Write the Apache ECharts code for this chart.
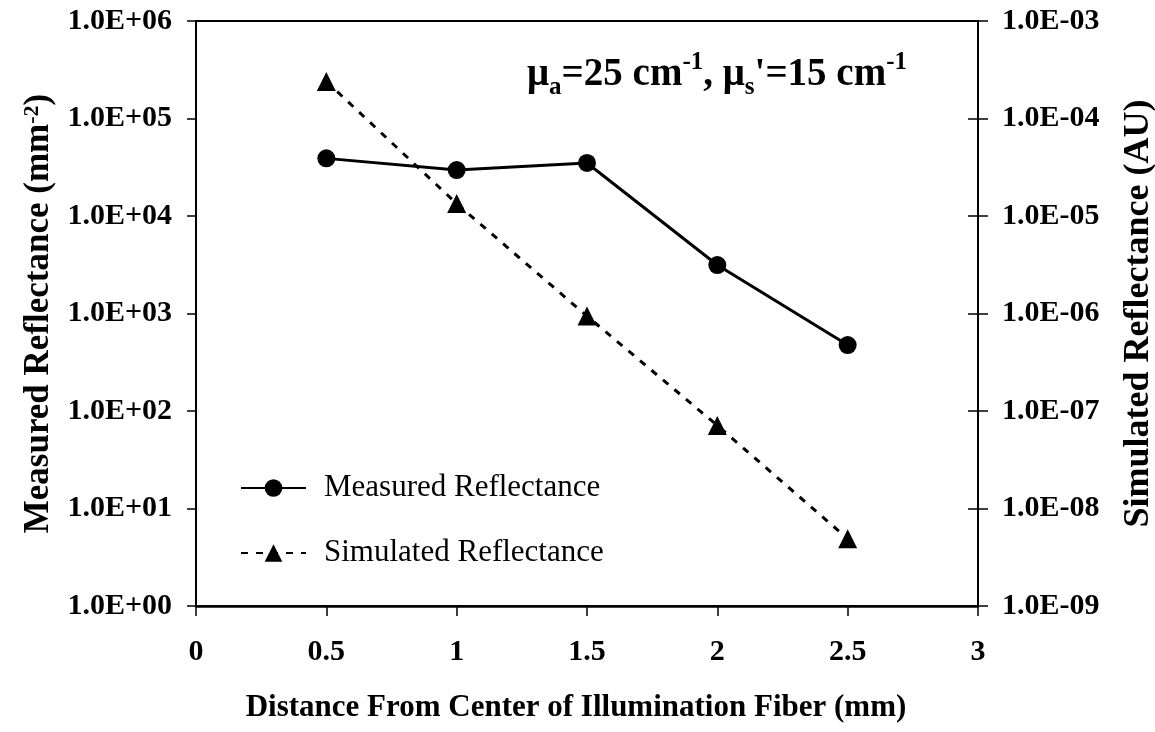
<!DOCTYPE html>
<html>
<head>
<meta charset="utf-8">
<script src="https://cdn.jsdelivr.net/npm/echarts@6/dist/echarts.min.js"></script>
<style>
  html, body { margin: 0; padding: 0; background: #fff; }
  #chart { width: 1155px; height: 732px; }
</style>
</head>
<body>
<div id="chart"></div>
<script>
// distance from fibre centre (mm)
var distances = [0.5, 1, 1.5, 2, 2.5];
// measured reflectance (mm^-2), left axis
var measured = [39000, 29600, 35000, 3140, 475];
// simulated reflectance (AU), right axis
var simulated = [2.4e-4, 1.34e-5, 9.4e-7, 7.1e-8, 4.9e-9];
// tick labels
var leftTicks = ['1.0E+00', '1.0E+01', '1.0E+02', '1.0E+03', '1.0E+04', '1.0E+05', '1.0E+06'];
var rightTicks = ['1.0E-09', '1.0E-08', '1.0E-07', '1.0E-06', '1.0E-05', '1.0E-04', '1.0E-03'];
var xTicks = ['0', '0.5', '1', '1.5', '2', '2.5', '3'];

var font = 'Liberation Serif';
var chart = echarts.init(document.getElementById('chart'));

function pairs(ys) {
  return distances.map(function (x, i) { return [x, ys[i]]; });
}

var tickLabel = { fontFamily: font, fontSize: 30, fontWeight: 'bold', color: '#000' };

var option = {
  animation: false,
  grid: {
    left: 196, right: 177, top: 21, bottom: 126,
    outerBoundsMode: 'none', containLabel: false,
    show: true, borderColor: '#000', borderWidth: 2
  },
  xAxis: {
    type: 'value', min: 0, max: 3, interval: 0.5,
    name: 'Distance From Center of Illumination Fiber (mm)',
    nameLocation: 'middle', nameGap: 86,
    nameTextStyle: { fontFamily: font, fontSize: 31, fontWeight: 'bold', color: '#000', padding: [0, 22, 0, 0] },
    axisLine: { lineStyle: { color: '#000', width: 2.5 } },
    axisTick: { inside: false, length: 10, lineStyle: { color: '#000', width: 1.5 } },
    splitLine: { show: false },
    axisLabel: Object.assign({ margin: 31, formatter: function (v) { return xTicks[Math.round(v * 2)]; } }, tickLabel)
  },
  yAxis: [
    {
      type: 'log', logBase: 10, min: 1, max: 1e6, splitNumber: 6, position: 'left',
      name: 'Measured Reflectance (mm{sup|-2})',
      nameLocation: 'middle', nameGap: 140, nameRotate: 90,
      nameTextStyle: {
        fontFamily: font, fontSize: 35, fontWeight: 'bold', color: '#000',
        rich: { sup: { fontFamily: font, fontSize: 22, fontWeight: 'bold', color: '#000', verticalAlign: 'top', lineHeight: 16 } }
      },
      axisLine: { show: true, lineStyle: { color: '#000', width: 2 } },
      axisTick: { inside: false, length: 9, lineStyle: { color: '#000', width: 1.5 } },
      splitLine: { show: false },
      minorTick: { show: false },
      axisLabel: Object.assign({ margin: 24, formatter: function (v) { return leftTicks[Math.round(Math.log10(v))]; } }, tickLabel)
    },
    {
      type: 'log', logBase: 10, min: 1e-9, max: 1e-3, splitNumber: 6, position: 'right',
      name: 'Simulated Reflectance (AU)',
      nameLocation: 'middle', nameGap: 143, nameRotate: 90,
      nameTextStyle: { fontFamily: font, fontSize: 36, fontWeight: 'bold', color: '#000' },
      axisLine: { show: true, lineStyle: { color: '#000', width: 2 } },
      axisTick: { inside: false, length: 10, lineStyle: { color: '#000', width: 1.5 } },
      splitLine: { show: false },
      axisLabel: Object.assign({ margin: 24, formatter: function (v) { return rightTicks[Math.round(Math.log10(v)) + 9]; } }, tickLabel)
    },
    {
      // inner half of the crossing ticks on the right axis
      type: 'log', logBase: 10, min: 1e-9, max: 1e-3, splitNumber: 6, position: 'right', offset: 0,
      axisLine: { show: false },
      axisTick: { inside: true, length: 10, lineStyle: { color: '#000', width: 1.5 } },
      splitLine: { show: false },
      axisLabel: { show: false }
    }
  ],
  legend: {
    orient: 'vertical', left: 240, top: 472, itemGap: 33, padding: 0,
    itemWidth: 65, itemHeight: 22,
    textStyle: { fontFamily: font, fontSize: 31, color: '#000', lineHeight: 32, padding: [0, 0, 0, 13] },
    data: ['Measured Reflectance', 'Simulated Reflectance']
  },
  graphic: [{
    type: 'text', left: 527, top: 50,
    style: {
      text: '{m|μ}{sub|a}{m|=25 cm}{sup|-1}{m|, μ}{sub|s}{m|\'=15 cm}{sup|-1}',
      rich: {
        m: { fontFamily: font, fontSize: 39, fontWeight: 'bold', fill: '#000', lineHeight: 50, verticalAlign: 'middle' },
        sub: { fontFamily: font, fontSize: 25, fontWeight: 'bold', fill: '#000', lineHeight: 26, verticalAlign: 'bottom' },
        sup: { fontFamily: font, fontSize: 25, fontWeight: 'bold', fill: '#000', lineHeight: 26, verticalAlign: 'top' }
      }
    }
  }],
  series: [
    {
      name: 'Measured Reflectance', type: 'line', yAxisIndex: 0,
      data: pairs(measured),
      symbol: 'circle', symbolSize: 18,
      lineStyle: { color: '#000', width: 3 },
      itemStyle: { color: '#000' }
    },
    {
      name: 'Simulated Reflectance', type: 'line', yAxisIndex: 1,
      data: pairs(simulated),
      symbol: 'triangle', symbolSize: 19,
      lineStyle: { color: '#000', width: 3, type: [7, 8] },
      itemStyle: { color: '#000' }
    }
  ]
};
chart.setOption(option);
</script>
</body>
</html>
